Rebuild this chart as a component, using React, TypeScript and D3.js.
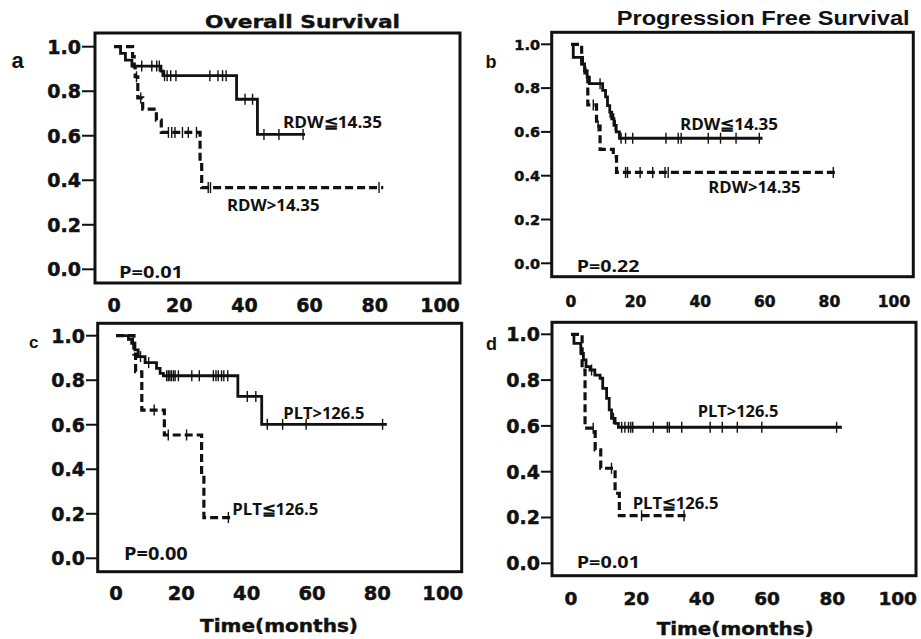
import React from "react";
import * as d3 from "d3";

// ---------- data ----------
const xTicks = [0, 20, 40, 60, 80, 100];
const yTicks = [0, 0.2, 0.4, 0.6, 0.8, 1.0];

// a: Overall survival, RDW<=14.35 (solid)
const aSolidTimes = [0, 2, 3.5, 5.5, 14.4, 15, 37.6, 44];
const aSolidSurv = [1, 0.97, 0.94, 0.913, 0.89, 0.87, 0.764, 0.606];
const aSolidEnd = 58.6;
const aSolidCensor = [8.5, 11.6, 13.1, 13.9, 15.5, 16.3, 17.4, 19, 29.4, 31.9, 33.3, 34.4, 40.2, 42.5, 46, 50.6, 58];
// a: RDW>14.35 (dashed)
const aDashTimes = [0, 5.7, 6.2, 6.5, 7.3, 8.8, 13, 14.5, 26.4, 26.9];
const aDashSurv = [1, 0.955, 0.91, 0.865, 0.77, 0.72, 0.67, 0.615, 0.483, 0.367];
const aDashEnd = 82.6;
const aDashCensor = [6.9, 8.2, 16.7, 17.7, 18.7, 21, 22.8, 25.3, 28.9, 29.6, 81.3];

// b: Progression free survival, RDW<=14.35 (solid)
const bSolidTimes = [0, 0.7, 3.6, 4.2, 5, 5.7, 9.8, 10.7, 11.3, 12, 12.6, 13.3, 14, 15];
const bSolidSurv = [1, 0.94, 0.91, 0.88, 0.85, 0.82, 0.79, 0.76, 0.72, 0.69, 0.66, 0.63, 0.6, 0.571];
const bSolidEnd = 59.3;
const bSolidCensor = [9, 12.1, 13.2, 13.7, 15.5, 16.9, 19.1, 29.4, 33.2, 34.1, 42.5, 46.3, 51.1, 58.3];
// b: RDW>14.35 (dashed)
const bDashTimes = [0, 3.3, 4.3, 5.2, 7.9, 9, 13.1, 14.1];
const bDashSurv = [1, 0.91, 0.86, 0.723, 0.627, 0.52, 0.487, 0.415];
const bDashEnd = 82.8;
const bDashCensor = [6.9, 8.4, 16.9, 17.5, 21.4, 25.3, 29.1, 30.1, 81.2];

// c: Overall survival, PLT>126.5 (solid)
const cSolidTimes = [0, 3.8, 4.8, 5.8, 6.8, 8.9, 12.4, 13.5, 14.5, 37.3, 44.6];
const cSolidSurv = [1, 0.984, 0.966, 0.936, 0.906, 0.879, 0.853, 0.831, 0.82, 0.727, 0.602];
const cSolidEnd = 82.9;
const cSolidCensor = [5.3, 7.5, 10, 15.5, 16, 16.5, 17, 17.6, 18.1, 19.1, 23.2, 25.5, 29.8, 30.6, 31.3, 32.3, 33, 34.2, 40.2, 42.8, 46.3, 51, 58.2, 81.6];
// c: PLT<=126.5 (dashed)
const cDashTimes = [0, 5.5, 6, 7.9, 14.8, 26.2, 26.9];
const cDashSurv = [1, 0.917, 0.838, 0.666, 0.554, 0.371, 0.183];
const cDashEnd = 35;
const cDashCensor = [11.7, 16, 21.6, 34.4];

// d: Progression free survival, PLT>126.5 (solid)
const dSolidTimes = [0, 0.9, 3, 3.8, 4.6, 5.8, 7.3, 8.9, 9.7, 10.9, 11.7, 12.4, 13.5, 14.5];
const dSolidSurv = [1, 0.96, 0.917, 0.888, 0.859, 0.844, 0.822, 0.808, 0.764, 0.72, 0.67, 0.633, 0.611, 0.594];
const dSolidEnd = 82.9;
const dSolidCensor = [6.3, 13, 15.5, 16.5, 17.6, 18.3, 18.9, 25.2, 29.5, 30.1, 33.9, 42.6, 46.3, 50.9, 58.4, 81.3];
// d: PLT<=126.5 (dashed)
const dDashTimes = [0, 3.4, 4.3, 7.4, 9.1, 13.5, 14.8];
const dDashSurv = [1, 0.844, 0.59, 0.495, 0.415, 0.306, 0.208];
const dDashEnd = 36;
const dDashCensor = [6.8, 12.4, 21.6, 34.6];

// ---------- layout ----------
type Curve = { times: number[]; surv: number[]; end: number; censor: number[]; dashed: boolean };
type Label = { text: string; x: number; y: number; len: number; size?: number };
type PanelCfg = {
  box: [number, number, number, number]; // l, t, r, b
  xr: [number, number];
  yr: [number, number];
  curves: Curve[];
  labels: Label[];
  letter: { t: string; x: number; y: number; size: number };
  yFont: number;
  yLabelRight: number;
  xFont: number;
  xBase: number;
};

const panels: PanelCfg[] = [
  {
    box: [95, 33, 460, 283],
    xr: [114, 440],
    yr: [269.3, 46.7],
    curves: [
      { times: aSolidTimes, surv: aSolidSurv, end: aSolidEnd, censor: aSolidCensor, dashed: false },
      { times: aDashTimes, surv: aDashSurv, end: aDashEnd, censor: aDashCensor, dashed: true },
    ],
    labels: [
      { text: "RDW≦14.35", x: 283, y: 128, len: 99 },
      { text: "RDW>14.35", x: 227, y: 210.5, len: 92.5 },
      { text: "P=0.01", x: 119, y: 278, len: 64 },
    ],
    letter: { t: "a", x: 11.5, y: 68, size: 22 },
    yFont: 19,
    yLabelRight: 81,
    xFont: 19,
    xBase: 311.5,
  },
  {
    box: [551.7, 32.3, 913.3, 276.7],
    xr: [571, 894],
    yr: [263.3, 44.3],
    curves: [
      { times: bSolidTimes, surv: bSolidSurv, end: bSolidEnd, censor: bSolidCensor, dashed: false },
      { times: bDashTimes, surv: bDashSurv, end: bDashEnd, censor: bDashCensor, dashed: true },
    ],
    labels: [
      { text: "RDW≦14.35", x: 680, y: 130, len: 98 },
      { text: "RDW>14.35", x: 708.3, y: 192.5, len: 92.3 },
      { text: "P=0.22", x: 576.7, y: 271.5, len: 62.7 },
    ],
    letter: { t: "b", x: 485.5, y: 68, size: 18 },
    yFont: 14.5,
    yLabelRight: 540,
    xFont: 15.5,
    xBase: 306.5,
  },
  {
    box: [97.7, 323.3, 461.7, 571.7],
    xr: [116, 442.7],
    yr: [558.3, 335.7],
    curves: [
      { times: cSolidTimes, surv: cSolidSurv, end: cSolidEnd, censor: cSolidCensor, dashed: false },
      { times: cDashTimes, surv: cDashSurv, end: cDashEnd, censor: cDashCensor, dashed: true },
    ],
    labels: [
      { text: "PLT>126.5", x: 283.3, y: 419, len: 81 },
      { text: "PLT≦126.5", x: 232.3, y: 515, len: 86 },
      { text: "P=0.00", x: 124, y: 560, len: 63.7, size: 18 },
    ],
    letter: { t: "c", x: 29, y: 348, size: 17 },
    yFont: 19,
    yLabelRight: 85,
    xFont: 19.5,
    xBase: 600,
  },
  {
    box: [552, 322.3, 916, 575.7],
    xr: [571, 897.7],
    yr: [563.3, 334.3],
    curves: [
      { times: dSolidTimes, surv: dSolidSurv, end: dSolidEnd, censor: dSolidCensor, dashed: false },
      { times: dDashTimes, surv: dDashSurv, end: dDashEnd, censor: dDashCensor, dashed: true },
    ],
    labels: [
      { text: "PLT>126.5", x: 697.7, y: 416.5, len: 80.7 },
      { text: "PLT≦126.5", x: 632.7, y: 509, len: 85.7 },
      { text: "P=0.01", x: 576.7, y: 568.3, len: 63.3 },
    ],
    letter: { t: "d", x: 486, y: 350, size: 18 },
    yFont: 19,
    yLabelRight: 540,
    xFont: 18.5,
    xBase: 605,
  },
];

const tickFont = "'DejaVu Sans', Verdana, sans-serif";
const annotFont = "'Open Sans', 'Noto Sans', sans-serif";

function survAt(times: number[], surv: number[], t: number) {
  const i = d3.bisectRight(times, t) - 1;
  return surv[Math.max(0, i)];
}

function Panel({ cfg }: { cfg: PanelCfg }) {
  const [l, t, r, b] = cfg.box;
  const x = d3.scaleLinear().domain([0, 100]).range(cfg.xr);
  const y = d3.scaleLinear().domain([0, 1]).range(cfg.yr);
  const line = d3
    .line<[number, number]>()
    .x((d) => x(d[0]))
    .y((d) => y(d[1]))
    .curve(d3.curveStepAfter);
  return (
    <g>
      {cfg.curves.map((c, ci) => {
        const pts: [number, number][] = c.times.map((tm, i) => [tm, c.surv[i]] as [number, number]);
        pts.push([c.end, c.surv[c.surv.length - 1]]);
        return (
          <g key={ci}>
            <path
              d={line(pts) || ""}
              fill="none"
              stroke="#111"
              strokeWidth={c.dashed ? 3.2 : 2.8}
              strokeDasharray={c.dashed ? "8,4" : undefined}
            />
            {c.censor.map((ct, k) => {
              const cy = y(survAt(c.times, c.surv, ct));
              return (
                <line key={k} x1={x(ct)} x2={x(ct)} y1={cy - 5.5} y2={cy + 5.5} stroke="#111" strokeWidth={1.4} />
              );
            })}
          </g>
        );
      })}
      <rect x={l} y={t} width={r - l} height={b - t} fill="none" stroke="#111" strokeWidth={3} />
      {yTicks.map((v) => (
        <g key={v}>
          <line x1={cfg.yLabelRight + 1} x2={l} y1={y(v)} y2={y(v)} stroke="#111" strokeWidth={2} />
          <text
            x={cfg.yLabelRight}
            y={y(v)}
            dy="0.36em"
            textAnchor="end"
            fontFamily={tickFont}
            fontWeight="bold"
            fontSize={cfg.yFont}
            fill="#111"
            stroke="#111"
            strokeWidth={0.5}
          >
            {v.toFixed(1)}
          </text>
        </g>
      ))}
      {xTicks.map((v) => (
        <text
          key={v}
          x={x(v)}
          y={cfg.xBase}
          textAnchor="middle"
          fontFamily={tickFont}
          fontWeight="bold"
          fontSize={cfg.xFont}
          fill="#111"
          stroke="#111"
          strokeWidth={0.5}
        >
          {v}
        </text>
      ))}
      {cfg.labels.map((lb, i) => (
        <text
          key={i}
          x={lb.x}
          y={lb.y}
          fontFamily={annotFont}
          fontWeight="bold"
          fontSize={lb.size || 16}
          textLength={lb.len}
          lengthAdjust="spacingAndGlyphs"
          fill="#111"
        >
          {lb.text}
        </text>
      ))}
      <text
        x={cfg.letter.x}
        y={cfg.letter.y}
        fontFamily="'Liberation Sans', Arial, sans-serif"
        fontWeight="bold"
        fontSize={cfg.letter.size}
        fill="#111"
      >
        {cfg.letter.t}
      </text>
    </g>
  );
}

export default function App() {
  return (
    <svg
      width={921}
      height={639}
      style={{ position: "absolute", left: 0, top: 0, background: "#fff" }}
    >
      <rect width={921} height={639} fill="#fff" />
      <text
        x={205}
        y={27.5}
        fontFamily={tickFont}
        fontWeight="bold"
        fontSize={18}
        textLength={195}
        lengthAdjust="spacingAndGlyphs"
        fill="#111"
        stroke="#111"
        strokeWidth={0.4}
      >
        Overall Survival
      </text>
      <text
        x={616.7}
        y={25}
        fontFamily="'Liberation Sans', Arial, sans-serif"
        fontWeight="bold"
        fontSize={20}
        textLength={293}
        lengthAdjust="spacingAndGlyphs"
        fill="#111"
      >
        Progression Free Survival
      </text>
      {panels.map((p, i) => (
        <Panel key={i} cfg={p} />
      ))}
      <text
        x={200}
        y={632}
        fontFamily={tickFont}
        fontWeight="bold"
        fontSize={17}
        textLength={158}
        lengthAdjust="spacingAndGlyphs"
        fill="#111"
        stroke="#111"
        strokeWidth={0.4}
      >
        Time(months)
      </text>
      <text
        x={656.7}
        y={635}
        fontFamily={tickFont}
        fontWeight="bold"
        fontSize={17}
        textLength={157}
        lengthAdjust="spacingAndGlyphs"
        fill="#111"
        stroke="#111"
        strokeWidth={0.4}
      >
        Time(months)
      </text>
    </svg>
  );
}
